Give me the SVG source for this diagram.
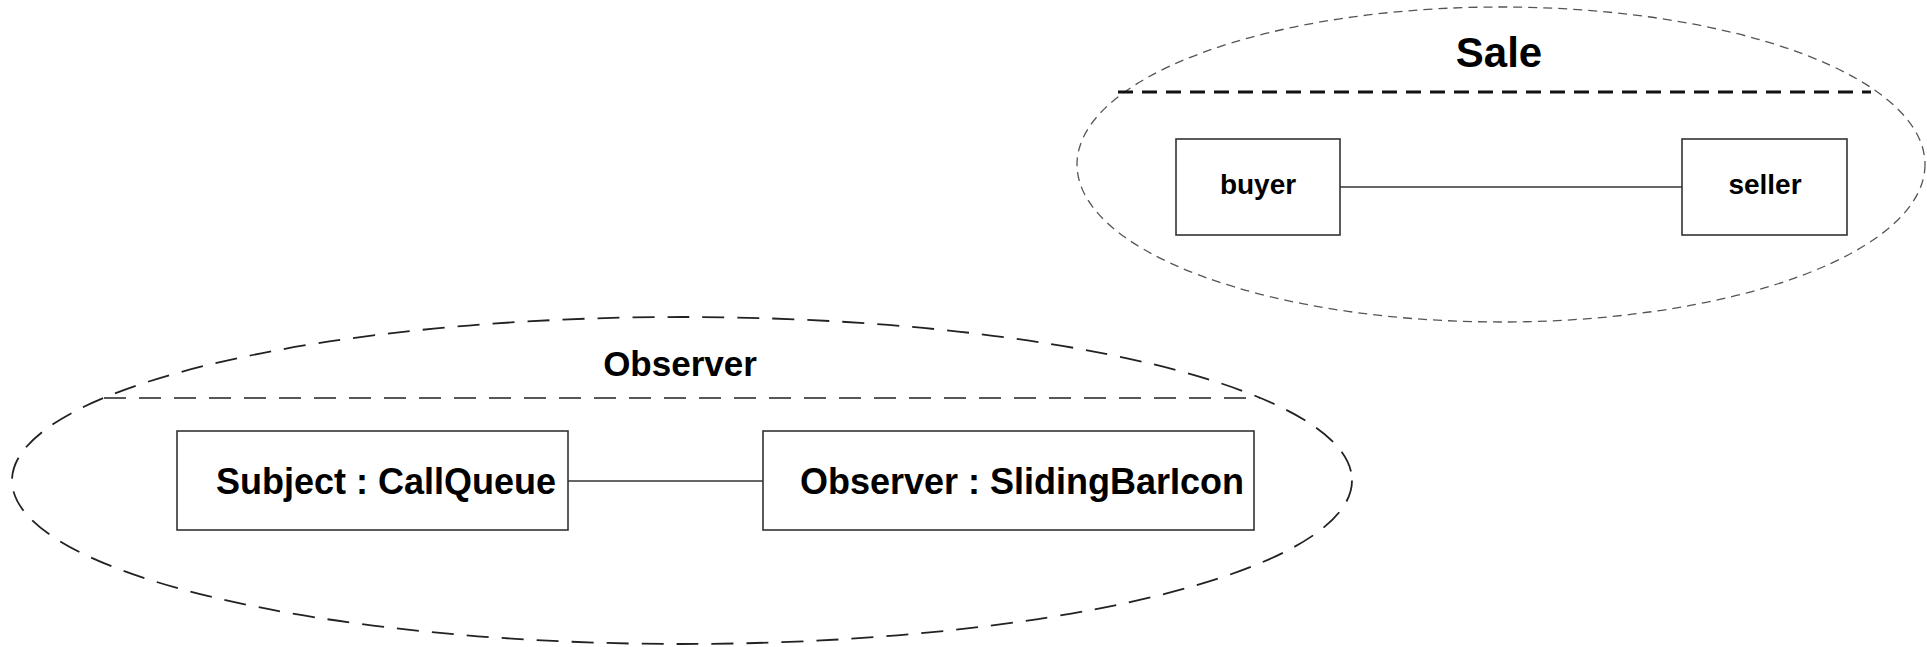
<svg xmlns="http://www.w3.org/2000/svg" width="1927" height="647" viewBox="0 0 1927 647">
  <style>
    .label { font-family: "Liberation Sans", Arial, sans-serif; font-weight: bold; fill: #000; text-anchor: middle; }
    .box { fill: #fff; stroke: #333; stroke-width: 1.6; }
    .link { stroke: #333; stroke-width: 1.5; fill: none; }
    .collab-sale { fill: none; stroke: #555; stroke-width: 1.3; stroke-dasharray: 9 6; }
    .collab-obs { fill: none; stroke: #222; stroke-width: 1.8; stroke-dasharray: 22 13; }
  </style>
  <rect width="1927" height="647" fill="#fff"/>

  <!-- Sale collaboration -->
  <g id="sale">
    <ellipse class="collab-sale" cx="1501" cy="164.5" rx="424" ry="157.5"/>
    <line x1="1118" y1="92" x2="1871" y2="92" stroke="#111" stroke-width="3" stroke-dasharray="15 9"/>
    <text class="label" x="1499" y="67" font-size="42">Sale</text>
  </g>

  <!-- Observer collaboration -->
  <g id="observer">
    <ellipse class="collab-obs" cx="682" cy="480.5" rx="670" ry="163.5"/>
    <line x1="104" y1="398" x2="1260" y2="398" stroke="#222" stroke-width="1.6" stroke-dasharray="22 13"/>
    <text class="label" x="680" y="376" font-size="35">Observer</text>
  </g>

  <!-- Connectors -->
  <g id="connectors">
    <line class="link" x1="1340" y1="187" x2="1682" y2="187"/>
    <line class="link" x1="568" y1="481" x2="763" y2="481"/>
  </g>

  <g id="buyer">
    <rect class="box" x="1176" y="139" width="164" height="96"/>
    <text class="label" x="1258" y="194" font-size="28">buyer</text>
  </g>

  <g id="seller">
    <rect class="box" x="1682" y="139" width="165" height="96"/>
    <text class="label" x="1765" y="194" font-size="28">seller</text>
  </g>

  <g id="subject">
    <rect class="box" x="177" y="431" width="391" height="99"/>
    <text class="label" x="386" y="494" font-size="36">Subject : CallQueue</text>
  </g>

  <g id="sliding-bar-icon">
    <rect class="box" x="763" y="431" width="491" height="99"/>
    <text class="label" x="1022" y="494" font-size="36">Observer : SlidingBarIcon</text>
  </g>
</svg>
